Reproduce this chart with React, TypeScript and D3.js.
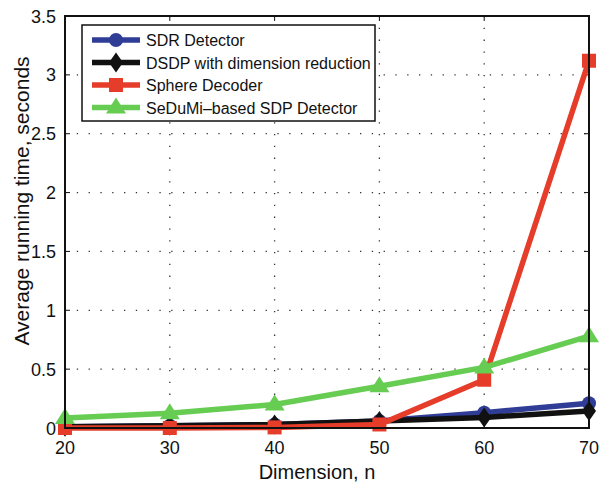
import React from "react";
import * as d3 from "d3";

const dims = [20, 30, 40, 50, 60, 70];
const sdr = [0.01, 0.02, 0.03, 0.06, 0.13, 0.21];
const dsdp = [0.01, 0.02, 0.03, 0.06, 0.09, 0.145];
const sphere = [0.0, 0.0, 0.005, 0.03, 0.41, 3.12];
const sedumi = [0.085, 0.125, 0.2, 0.355, 0.515, 0.78];
const xTicks = [20, 30, 40, 50, 60, 70];
const yTicks = [0, 0.5, 1, 1.5, 2, 2.5, 3, 3.5];
const seriesNames = ["SDR Detector", "DSDP with dimension reduction", "Sphere Decoder", "SeDuMi\u2013based SDP Detector"];
const seriesColors = ["#2f3d97", "#111111", "#e63c2a", "#66cc52"];
const seriesMarkers = ["circle", "diamond", "square", "triangle"];

const W = 612, H = 489;
const L = 65, R = 589, T = 16, B = 428;
const FONT = "'Liberation Sans', Arial, Helvetica, sans-serif";

function Marker({ type, x, y, color }: { type: string; x: number; y: number; color: string }) {
  if (type === "circle") return <circle cx={x} cy={y} r={7} fill={color} />;
  if (type === "diamond") return <path d={`M${x},${y - 10}L${x + 7},${y}L${x},${y + 10}L${x - 7},${y}Z`} fill={color} />;
  if (type === "square") return <rect x={x - 7} y={y - 7} width={14} height={14} fill={color} />;
  return <path d={`M${x},${y - 10}L${x + 10},${y + 6}L${x - 10},${y + 6}Z`} fill={color} />;
}

export default function App() {
  const x = d3.scaleLinear().domain([20, 70]).range([L, R]);
  const y = d3.scaleLinear().domain([0, 3.5]).range([B, T]);
  const data = [sdr, dsdp, sphere, sedumi];
  const line = d3.line<number>().x((_, i) => x(dims[i])).y((d) => y(d));
  return (
    <svg width={W} height={H} style={{ position: "absolute", left: 0, top: 0 }} fontFamily={FONT}>
      <rect width={W} height={H} fill="#fff" />
      {xTicks.slice(1, -1).map((t) => (
        <line key={"gx" + t} x1={x(t)} x2={x(t)} y1={T} y2={B} stroke="#333" strokeWidth={1.3} strokeDasharray="1.3,10.5" />
      ))}
      {yTicks.slice(1, -1).map((t) => (
        <line key={"gy" + t} x1={L} x2={R} y1={y(t)} y2={y(t)} stroke="#333" strokeWidth={1.3} strokeDasharray="1.3,10.5" />
      ))}
      {xTicks.map((t) => (
        <g key={"xt" + t}>
          <line x1={x(t)} x2={x(t)} y1={B} y2={B - 5} stroke="#111" />
          <line x1={x(t)} x2={x(t)} y1={T} y2={T + 5} stroke="#111" />
          <text x={x(t)} y={B + 26} textAnchor="middle" fontSize={18} fill="#111">{t}</text>
        </g>
      ))}
      {yTicks.map((t) => (
        <g key={"yt" + t}>
          <line x1={L} x2={L + 5} y1={y(t)} y2={y(t)} stroke="#111" />
          <line x1={R} x2={R - 5} y1={y(t)} y2={y(t)} stroke="#111" />
          <text x={L - 9} y={y(t) + 6.5} textAnchor="end" fontSize={18} fill="#111">{t}</text>
        </g>
      ))}
      {data.map((s, k) => (
        <g key={"s" + k}>
          <path d={line(s) || ""} fill="none" stroke={seriesColors[k]} strokeWidth={5.5} strokeLinejoin="round" />
          {s.map((v, i) => (
            <Marker key={i} type={seriesMarkers[k]} x={x(dims[i])} y={y(v)} color={seriesColors[k]} />
          ))}
        </g>
      ))}
      <rect x={L} y={T} width={R - L} height={B - T} fill="none" stroke="#111" strokeWidth={2} />
      <text x={317} y={479} textAnchor="middle" fontSize={20} fill="#111">Dimension, n</text>
      <text transform={`translate(29,201) rotate(-90)`} textAnchor="middle" fontSize={21} fill="#111">
        Average running time, seconds
      </text>
      <rect x={82} y={25} width={293} height={96} fill="#fff" stroke="#111" strokeWidth={1.5} />
      {seriesNames.map((n, k) => {
        const ly = 40 + k * 22.5;
        return (
          <g key={"l" + k}>
            <line x1={92} x2={140} y1={ly} y2={ly} stroke={seriesColors[k]} strokeWidth={5.5} />
            <Marker type={seriesMarkers[k]} x={116} y={ly} color={seriesColors[k]} />
            <text x={146} y={ly + 6} fontSize={16} fill="#111">{n}</text>
          </g>
        );
      })}
    </svg>
  );
}
